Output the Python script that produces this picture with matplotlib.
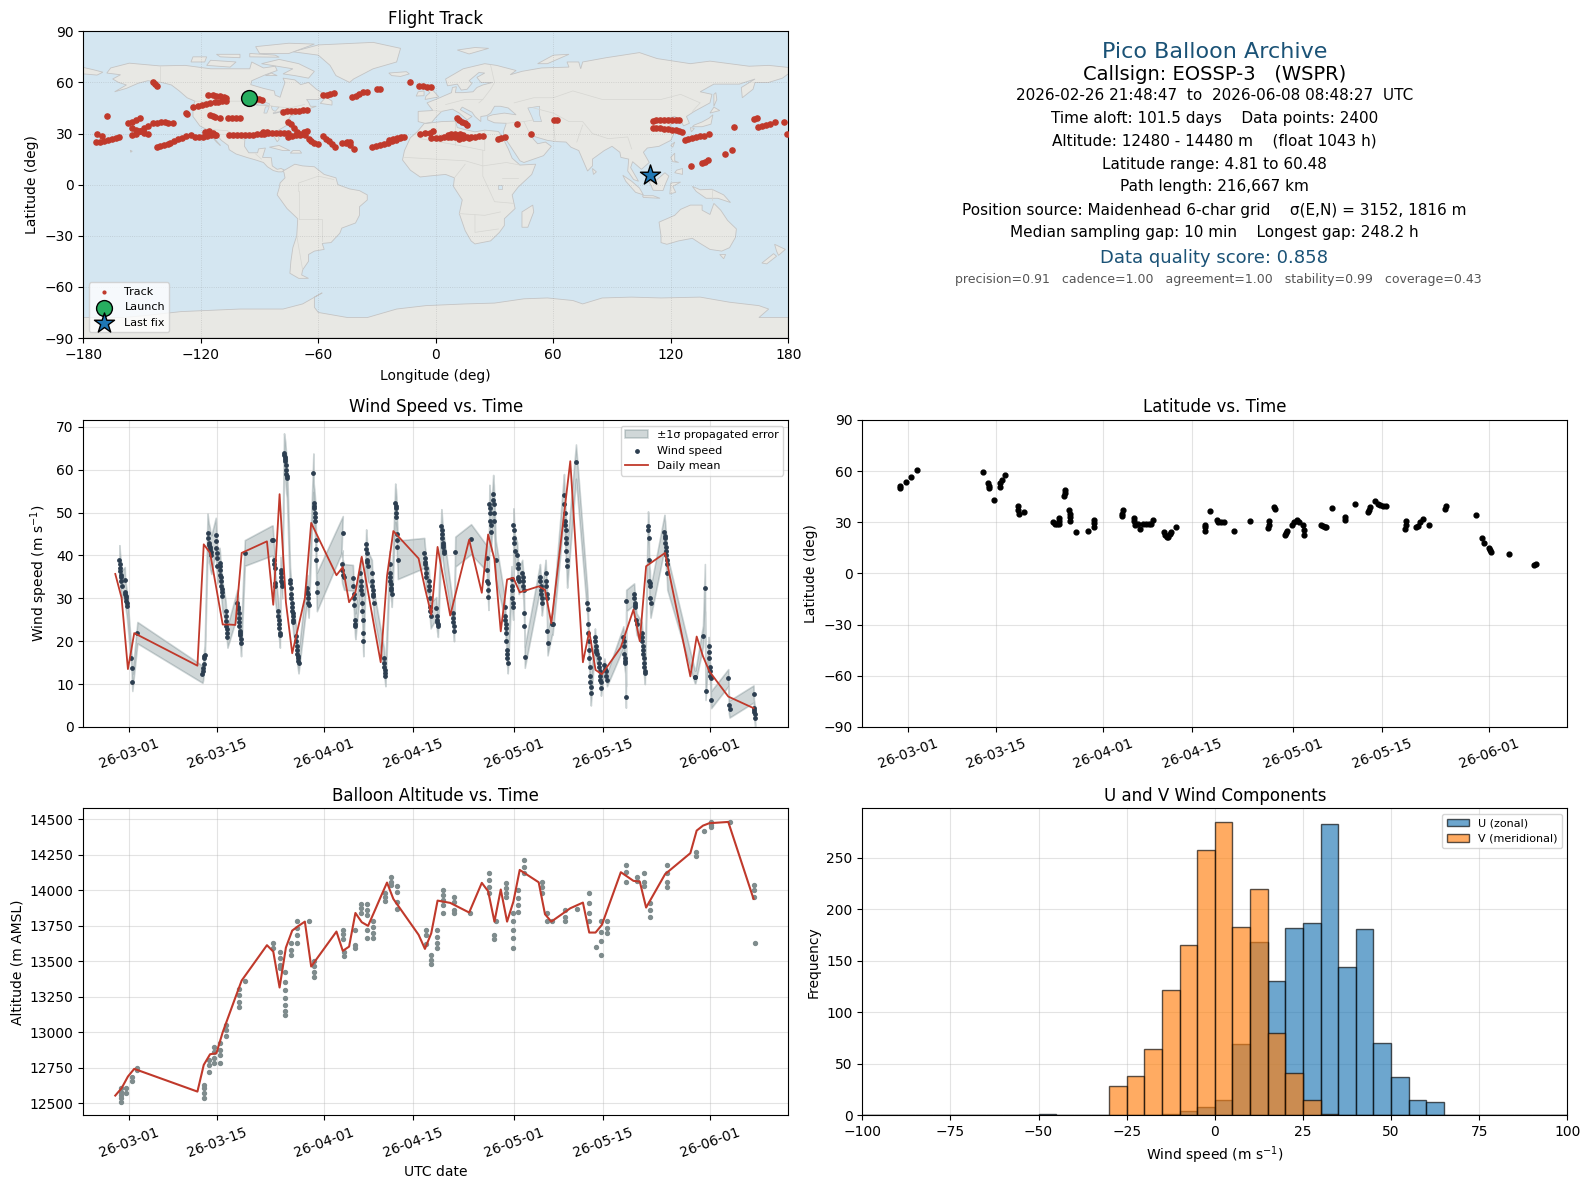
import datetime as dt

import matplotlib
matplotlib.use("Agg")
import matplotlib.dates as mdates
import matplotlib.pyplot as plt
from matplotlib.patches import Polygon
import numpy as np

# ---- data ----
# flight track
track_lon = [-144.6, -143.6, -142.6, -167.7, -172.8, -170.6, -173.7, -171.5, -169.5, -167.5, -165.5, -163.5, -162,
             -157, -155, -153, -151, -155, -153, -151, -149, -147, -155, -153, -151, -149, -147,
             -144.6, -142.5, -140.5, -138.5, -136.5, -134.4, -142.6, -141, -139, -137, -135.7,
             -133.5, -131.5, -129.5, -127.5, -125, -123.2, -121, -119, -117, -115, -113, -112, -118, -116, -114,
             -127.5, -126.8, -123.8, -121.5, -119.5, -117.5, -115.5, -113, -111, -109, -107, -116.4, -114, -112, -110, -108, -107,
             -115.5, -114, -112.5, -110.4, -106, -104, -102, -100, -92, -90.5, -89,
             -105.6, -103.5, -101.5, -99.5, -97.5, -95.5, -93.5, -91.5, -89.5, -87.5, -85.5, -83.5, -81.5, -79.5, -77.5, -75.4, -88, -86,
             -78, -76, -74, -72, -70, -68, -65.6, -75.4, -74, -72.5, -71, -69.4, -75.4, -73.5, -71.5, -69.5, -67.5, -65.6,
             -66.8, -65, -63.5, -62, -60, -57.4, -56, -54.5, -53, -51.5, -48, -46, -44, -42, -44, -45.5,
             -57.4, -55.5, -54, -52, -43, -41, -39, -37, -35.2, -29.8, -28.6, -13, -8.7, -6.7, -4.7, -2.7,
             -32.7, -30.5, -28.5, -26.5, -24.5, -22.5, -20.5, -18.5, -16.4, -24, -22, -20, -18,
             -7.9, -5.5, -3, -1.4,
             -2.2, 0, 2, 4, 6, 8, 10, 12, 14, 16, 18, 20, 22, 24.2, 6, 8, 10, 12.3, 14, 12, 14, 17,
             10.6, 12, 13.5, 15, 16, 31.9, 33.5, 35.3, 41.6, 48.6, 60.5, 62,
             110.7, 112.5, 114.5, 116.5, 118.5, 120.5, 122.5, 124.4, 110.7, 112.5, 114.5, 116.5, 118.5, 120.5, 122.5, 124, 125.6,
             127.3, 129, 131, 133, 135, 137, 139.7, 152.5, 162.5, 164, 164.7, 166.5, 168.5, 170.5, 173.3, 178, 179.2,
             130.2, 135.8, 137.5, 139.2, 147.7, 151]
track_lat = [60, 59, 58, 40.1, 29.5, 28.7, 25.2, 25.3, 25.6, 26.1, 26.8, 27.5, 28.2,
             36, 37, 38.2, 39.3, 33.5, 32, 31.5, 30.5, 29.5, 29, 30, 31.5, 33, 34.5,
             36, 36.3, 36.5, 36.5, 36.3, 36, 22, 22.5, 23.3, 24, 24.7,
             25.8, 26.7, 27.6, 28.4, 29, 27.8, 27.8, 28, 28.6, 29, 29, 29, 31, 31.3, 30.5,
             42, 41.5, 45.4, 46.2, 46.9, 47.5, 48, 48.4, 48.7, 48.9, 49, 52.6, 52.4, 52.2, 52, 51.4, 50.6,
             41, 40.2, 39.5, 39, 39, 39, 39, 39, 50, 50, 49.6,
             29, 29, 29, 29, 29, 29.2, 29.4, 29.5, 29.6, 29.9, 30.1, 30.3, 30.5, 30.5, 30.5, 30.5, 31, 31,
             42.8, 43, 43.1, 43.3, 43.4, 43.6, 43.8, 37, 35.4, 33, 31, 29, 28, 28.5, 29.2, 30, 30.8, 31.5,
             29, 27, 25.5, 24.7, 24, 28.6, 27, 25.5, 24, 22.3, 24.6, 24.4, 23, 21, 24.8, 25.3,
             52.6, 52.7, 53, 53.5, 51.2, 52.3, 53.3, 54.2, 54.5, 56, 56, 60, 57.9, 57.8, 57.6, 57.5,
             22, 22.6, 23, 23.6, 24.4, 25.4, 26.2, 27.2, 27.8, 26, 27, 27.5, 28,
             30, 30.5, 30.5, 31.5,
             27.2, 27.4, 27.6, 27.8, 27.9, 28, 28.2, 28.2, 28.2, 27.8, 27.8, 28.2, 28.4, 28.5, 29, 29.5, 30, 30, 29.3, 27, 27.2, 27.5,
             39, 38, 37, 36, 35, 26.8, 27.4, 28, 35.4, 30, 38, 38,
             37.5, 37.9, 38, 38, 38, 38, 38, 38, 33.4, 33.3, 33.2, 32.9, 32.6, 32.2, 31.8, 31.4, 31,
             26.2, 26.8, 27.3, 27.8, 28.3, 28.8, 29.7, 34, 38.8, 39.2, 33.6, 34.3, 35, 35.8, 37, 37, 30,
             11.2, 12.5, 13.5, 14.5, 17.8, 20.3]
launch_lon, launch_lat = -95.4, 50.6
last_lon, last_lat = 109.4, 5.7

# land outlines (lon, lat)
land_polys = [
    [(-168, 65.5), (-166, 68.5), (-156.5, 71.3), (-141, 69.7), (-128, 70), (-115, 68), (-108, 68), (-95, 68), (-94, 72), (-88, 68.5), (-82, 69.5), (-81, 67), (-87, 64.5), (-94, 61), (-94.5, 58.7), (-88, 56.5), (-82.5, 55), (-82, 52.5), (-79.5, 51.3), (-78.5, 55), (-77, 60), (-78, 62.5), (-72, 61.5), (-69, 58.7), (-65, 60), (-61, 56), (-56, 52.5), (-60, 50), (-66, 50), (-65, 48.5), (-64, 46), (-61, 46), (-66, 44), (-70, 43.5), (-70, 41.7), (-74, 40.5), (-76, 37), (-75.5, 35.2), (-81, 31.5), (-80, 26.5), (-81, 25.2), (-83, 29), (-85, 29.7), (-90, 29.2), (-94, 29.5), (-97.5, 27), (-97.7, 22.5), (-95.5, 18.7), (-91, 18.7), (-90.5, 21), (-87, 21.5), (-88.5, 16), (-84, 15.8), (-83.5, 11), (-81, 9), (-79, 9.5), (-77.3, 8.5), (-78.5, 7.5), (-80.5, 7.5), (-83, 8.3), (-86, 10.5), (-88, 13), (-92, 14.5), (-96, 15.8), (-102, 18), (-105.5, 20.5), (-106, 23), (-109.5, 26), (-112.5, 30), (-114.7, 31.7), (-113, 27), (-110, 23), (-112, 25), (-115, 29), (-117.2, 32.5), (-120.5, 34.5), (-124, 40), (-124, 46), (-123, 49), (-127, 51), (-131, 55), (-135, 58.5), (-140, 60), (-147, 61), (-152, 59.5), (-158, 56.5), (-164, 54.5), (-158, 58.5), (-162, 60), (-165, 62), (-161, 64.5)],
    [(-78, 8), (-72, 12), (-68, 11), (-62, 10.5), (-57, 6), (-51, 4), (-50, 0), (-44, -2.5), (-39, -3.5), (-35, -6), (-35, -9), (-39, -13), (-39, -18), (-41, -22.5), (-48, -25.5), (-49, -28.5), (-53.5, -34), (-58, -34.5), (-57, -38), (-62, -39), (-65, -41), (-65, -45), (-68, -50), (-68.5, -53), (-65, -55), (-70, -55), (-74.5, -52), (-74, -45), (-73, -37), (-71, -30), (-70.5, -20), (-76, -14), (-81, -6), (-80, -2), (-79.5, 1), (-77, 4), (-77.5, 7)],
    [(-6, 35.8), (3, 37), (10, 37.3), (11, 33.5), (15, 32.3), (20, 31), (25, 32), (32, 31.2), (34, 28), (37, 21), (39, 15.5), (43, 11.5), (51, 12), (49, 6), (42, -1.5), (39, -6), (40.5, -14), (35, -20), (35, -24), (32.5, -28), (28, -33), (20, -34.8), (18, -33), (15, -27), (12, -17), (13.5, -9), (9, -1), (9.5, 4), (5, 6), (-4, 5), (-8, 4.5), (-13, 8.5), (-17, 14.5), (-16, 20), (-13, 27.5), (-9.5, 31)],
    [(-9, 37), (-9, 43), (-1.5, 43.5), (-4.5, 48), (1, 50.5), (8, 54), (8.5, 57), (10.5, 57.5), (10, 54), (14, 54), (19, 54.5), (21, 57), (24, 58.5), (29, 60), (23, 60), (21, 63), (25, 65.5), (22, 65.8), (17, 61), (18.5, 59.5), (16, 56), (13, 55.5), (11, 59), (6, 58), (5, 62), (14, 68), (25, 71), (31, 70), (41, 67), (38, 64.5), (44, 66.5), (54, 68.5), (68, 69), (67, 72), (73, 72), (74, 68), (75, 72), (87, 74.5), (104, 77.5), (113, 74), (130, 71), (140, 72.5), (160, 69.5), (170, 70), (180, 68.8), (180, 65), (177, 62.5), (170, 60), (163, 60), (162, 56), (156.5, 51), (156, 57), (163, 62), (155, 59), (142, 59), (135, 54.5), (141, 53), (140, 48), (132, 43), (128, 40), (129.5, 36), (126.5, 34.5), (125, 38), (122, 40), (118, 39), (122, 37), (119.5, 35), (122, 31), (120, 26), (114, 22.5), (108, 21.5), (106, 19), (109, 13), (105, 9), (100.5, 13.5), (99.5, 10), (103.5, 2), (101, 3), (98, 8), (98.5, 15), (94.5, 16), (94, 19), (90, 22.5), (86, 20), (80, 15), (80, 11), (77.5, 8), (73, 20), (69, 22), (66.5, 25), (61, 25.3), (57, 26), (51, 28), (48, 30), (50, 26.5), (52, 24), (56, 25), (59, 22.5), (55, 17), (45, 13), (43, 14), (39, 21), (35, 28), (34.5, 31), (36, 36), (30, 36.3), (26.5, 38), (26.5, 40), (29, 41), (35, 42), (41, 41), (37, 45), (33, 46), (30, 46), (28, 42), (26, 40.5), (23, 40), (23, 37), (20, 40), (18.5, 42.5), (13.5, 45.5), (12.5, 44), (18.5, 40), (16, 38), (12, 42), (8.5, 44.3), (3, 43), (0, 39.5), (-2, 36.7), (-5.5, 36)],
    [(-180, 68.8), (-175, 67.5), (-170, 66), (-173, 64.3), (-180, 65)],
    [(-73, 78), (-60, 82), (-32, 83.5), (-18, 80), (-20, 72), (-32, 68), (-42, 62), (-44, 60), (-51, 64), (-54, 70), (-60, 76)],
    [(-24, 65.5), (-15, 66.3), (-13.5, 65), (-18, 63.5), (-22.5, 64)],
    [(-5.5, 50), (1.5, 51.5), (0, 53.5), (-2, 56), (-3, 58.6), (-6, 57), (-3, 54), (-5, 52)],
    [(-10, 52), (-6, 52.2), (-6, 55), (-9, 54.5)],
    [(11, 79), (20, 80.5), (27, 80), (17, 76.7)],
    [(52, 71), (57, 71), (68, 76.5), (60, 76)],
    [(-80, 73.5), (-70, 71), (-62, 66.5), (-65, 62.5), (-72, 64), (-78, 65), (-73, 68), (-89, 71)],
    [(-117, 70), (-105, 69), (-102, 72), (-115, 73)],
    [(-125, 72), (-118, 72), (-117, 75), (-124, 75)],
    [(-90, 77), (-75, 77), (-62, 82.5), (-75, 83), (-92, 81)],
    [(-95, 75), (-80, 74.8), (-82, 76), (-95, 77)],
    [(-110, 75), (-100, 74.5), (-100, 76.5), (-112, 76.5)],
    [(-87, 64), (-81, 64), (-84, 65.5)],
    [(-59, 47.7), (-53, 46.7), (-53, 49), (-56, 51.5)],
    [(-85, 22), (-80, 23), (-74.5, 20), (-78, 20)],
    [(-74.3, 18.5), (-68.5, 18.5), (-69.5, 20), (-73, 20)],
    [(-156, 20.2), (-155, 19.6), (-155.8, 19)],
    [(44, -16), (49.5, -12), (50, -16), (47, -25), (44, -25)],
    [(80, 9.5), (82, 7.5), (80.5, 6)],
    [(131, 34), (136, 34), (140.5, 35.5), (141.5, 41), (139.5, 39), (136, 36.8), (132, 35)],
    [(140, 42), (145, 43.5), (142, 45.5)],
    [(130, 33.5), (132, 33), (130.5, 31)],
    [(142, 46), (143.5, 50), (143, 54), (142, 53)],
    [(120, 23), (122, 25), (121, 22)],
    [(120, 16), (122, 18.5), (122, 14), (124, 13), (121, 13.5)],
    [(122, 7), (126, 6), (126, 9.5), (123, 8.5)],
    [(109, 1.5), (113, 3), (117, 7), (119, 5), (117.5, 1), (116, -3.5), (111, -3.3)],
    [(95.5, 5.5), (100, 2), (104, -2), (106, -6), (102, -4.5), (97, 2)],
    [(105.5, -6.5), (111, -6.5), (114.5, -8), (106, -7.5)],
    [(119.5, -5.5), (120, 1), (125, 1.5), (121, -1), (122.5, -4.5)],
    [(131, -1), (135, -3), (141, -2.7), (147, -6), (150.5, -10.5), (144, -8), (138, -8), (133, -4)],
    [(114, -22), (122, -18), (125, -14.5), (130, -12), (136, -12), (136, -15), (140, -17.5), (142, -11), (145.5, -15), (149, -21), (153.5, -26), (153, -31), (150, -37), (146, -39), (140, -38), (135, -34.5), (131, -31.5), (124, -33), (118, -35), (115, -34), (115, -30)],
    [(145, -41), (148, -41), (147, -43.5)],
    [(173, -35), (178.5, -38), (175, -41.5), (174, -39)],
    [(172.5, -40.5), (174, -42), (169, -46.5), (166.5, -46)],
    [(-180, -78), (-160, -78), (-150, -77), (-130, -74.5), (-100, -73), (-78, -73), (-68, -70), (-58, -63.5), (-62, -66), (-62, -72), (-60, -75), (-45, -78), (-35, -78), (-20, -73), (-5, -71), (15, -70), (30, -69.5), (45, -67), (57, -66.5), (70, -68), (75, -70), (85, -66.5), (100, -66), (115, -66.5), (135, -66), (150, -69), (165, -71), (170, -73), (165, -78), (180, -78), (180, -90), (-180, -90)],
]
lake_polys = [
    [(47, 45), (53, 46), (53, 41), (54, 37), (50, 37), (49, 40)],
    [(-92, 46.7), (-88, 48.7), (-85, 47.5), (-85, 46.5)],
    [(-87.8, 42), (-86.3, 42), (-85, 45.8), (-87, 45.6)],
    [(-84, 46), (-80, 45.5), (-82, 43), (-83.5, 44)],
    [(-83, 41.6), (-79, 42.7), (-79, 43), (-83, 42.2)],
    [(-79.5, 43.3), (-76.3, 43.5), (-76.5, 44.1), (-79, 43.9)],
    [(32, 0), (34, 0), (34, -2.5), (32, -2.5)],
]
border_lines = [
    [(-141, 60), (-141, 69.7)], [(-123, 49), (-95, 49), (-83, 46), (-75, 45), (-67, 47)],
    [(-117.2, 32.5), (-106.5, 31.7), (-97.5, 26)], [(-70, -20), (-58, -20), (-58, -33)],
    [(-70, -4), (-70, 1), (-60, 5), (-52, 3)], [(-70, -20), (-70, -4)], [(-71, -30), (-68, -50)],
    [(28, 70), (30, 60), (28, 56), (24, 50), (22, 48)], [(40, 48), (50, 51), (60, 51), (70, 55), (85, 50), (98, 50), (115, 50), (125, 53), (135, 48), (131, 43)],
    [(50, 45), (60, 42), (68, 37), (75, 37), (80, 30), (88, 27), (98, 28), (100, 21)], [(60, 37), (61, 25.3)], [(75, 35), (72, 25)],
    [(45, 37), (48, 30)], [(36, 36), (45, 37), (50, 38)], [(5, 47), (15, 50), (24, 50)], [(-1.5, 43.5), (3, 43)],
    [(-8, 27), (12, 23), (25, 20), (25, 32)], [(-16, 16), (15, 14), (24, 11), (36, 13), (43, 11.5)],
    [(9.5, 4), (15, 12)], [(24, 20), (24, 5), (30, -10), (40, -11)], [(12, -17), (25, -18), (33, -16)], [(20, -18), (20, -28), (32, -26)],
    [(141, -2.7), (141, -9)], [(10, 37), (10, 23)], [(34, 4), (42, 4)], [(-92, 18), (-89, 15)],
]

# daily means, days after 2026-03-01
mean_days = [-2.1, -1.1, -0.1, 0.9, 10.9, 11.9, 12.9, 13.9, 14.9, 15.9, 16.9, 17.9, 21.9, 22.9, 23.9, 24.9, 25.9, 26.9, 27.9, 28.9,
             32.9, 33.9, 34.9, 35.9, 36.9, 37.9, 38.9, 39.9, 40.9, 41.9, 45.9, 46.9, 47.9, 48.9, 50.9, 53.9, 55.9, 56.9, 57.9, 58.9,
             59.9, 60.9, 61.9, 64.9, 65.9, 66.9, 69.9, 71.9, 72.9, 73.9, 74.9, 77.9, 79.9, 80.9, 81.9, 84.9, 88.9, 89.9, 90.9, 91.9, 94.9, 98.9]
mean_wind = [35.7, 30.1, 13.5, 21.9, 14.3, 42.6, 40.6, 32.3, 23.9, 23.9, 23.8, 40.6, 43.3, 28.5, 54.3, 29.1, 17.2, 23.6, 30.1, 47.6,
             35.4, 37.3, 29.1, 31.4, 39.7, 31.5, 23.2, 15.1, 35.2, 45.7, 39.3, 32.4, 26.2, 42, 26, 43.7, 31.3, 44.9, 39.1, 22.3,
             34.4, 34.8, 31.4, 32.8, 32, 24.2, 62, 15.1, 22.3, 13.3, 12.3, 18.6, 27.4, 20, 37.5, 40.6, 11.8, 21.1, 16.5, 13, 7.1, 4.4]
mean_alt = [12554, 12606, 12688, 12742, 12582, 12770, 12845, 12852, 13000, 13122, 13244, 13364, 13613, 13568, 13315, 13596, 13716, 13749, 13779, 13463,
            13709, 13573, 13603, 13840, 13775, 13749, 13850, 13953, 14054, 13939, 13686, 13587, 13697, 13927, 13911, 13843, 14052, 13993, 13779, 14005,
            13779, 13920, 14143, 14056, 13831, 13779, 13873, 13913, 13702, 13702, 13756, 14127, 14066, 14061, 13878, 14113, 14261, 14420, 14455, 14472, 14481, 13939]

# wind speed fixes, grouped per pass of the balloon
wind_days = [
    [-1.45, -1.4, -1.35, -1.3, -1.25, -1.2, -1.15, -1.1], [-0.6, -0.55, -0.5, -0.45, -0.4, -0.35, -0.3, -0.25], [0.45, 0.5, 0.6], [1.4],
    [11.7, 11.8, 11.85, 11.9, 11.95, 12, 12.05], [12.5, 12.6, 12.7, 12.8, 12.85, 12.9, 13, 13.1], [13.8, 13.85, 13.9, 13.95, 14, 14.05],
    [14.4, 14.45, 14.5, 14.55, 14.6, 14.65, 14.7, 14.75, 14.8, 14.85], [15.35, 15.4, 15.45, 15.5, 15.55, 15.6, 15.65],
    [17.2, 17.3, 17.35, 17.4, 17.45, 17.5, 17.55, 17.6, 17.65, 17.7, 17.75, 17.8], [18.4], [22.7, 22.8],
    [23, 23.05, 23.1, 23.15, 23.2], [23.65, 23.7, 23.75, 23.8, 23.85, 23.9, 23.95], [24.05, 24.1, 24.15, 24.2, 24.25, 24.3],
    [24.6, 24.65, 24.7, 24.75, 24.8, 24.85, 24.9, 24.95, 25, 25.05], [25.55, 25.6, 25.65, 25.7, 25.75, 25.8, 25.85, 25.9, 25.95, 26, 26.05, 26.1],
    [26.5, 26.55, 26.6, 26.65, 26.7, 26.75, 26.8, 26.85, 26.9], [28.25, 28.3, 28.35, 28.4, 28.45, 28.5],
    [29.25, 29.3, 29.35, 29.4, 29.45, 29.5, 29.55, 29.6, 29.65, 29.7, 29.75, 29.8], [33.9], [33.7, 33.8, 34, 34.1], [35.5, 35.55, 35.6, 35.65, 35.7, 35.8, 35.85, 35.9],
    [36.7, 36.75, 36.8, 36.85, 36.9, 36.95, 37, 37.05, 37.1, 37.15], [37.6, 37.65, 37.7, 37.75, 37.8, 37.85], [38.5, 38.55, 38.6, 38.65, 38.7, 38.75, 38.8],
    [40.4, 40.45, 40.5, 40.55, 40.6, 40.65], [41.3, 41.35, 41.4, 41.45, 41.5, 41.55, 41.6, 41.65], [42.2, 42.25, 42.3, 42.35, 42.4, 42.45, 42.5, 42.55, 42.6],
    [46.8, 46.85, 46.9, 46.95, 47, 47.05, 47.1], [47.5, 47.55, 47.6, 47.65, 47.7, 47.75, 47.8], [48.7, 48.75, 48.8, 48.85, 48.9, 48.95],
    [49.5, 49.55, 49.6, 49.65, 49.7, 49.75, 49.8, 49.85, 49.9], [51.3, 51.35, 51.4, 51.45, 51.5], [51.7], [54.2],
    [56.7, 56.75, 56.8, 56.85, 56.9, 56.95], [57.1, 57.15, 57.2, 57.25, 57.3, 57.35], [57.7, 57.75, 57.8, 57.85, 57.9, 58.1],
    [59.5, 59.55, 59.6, 59.65, 59.7, 59.75, 59.8, 59.85, 59.9, 59.95, 60], [60.6, 60.65, 60.7, 60.75, 60.8, 60.85], [60.9, 60.95, 61, 61.05, 61.1],
    [61.5, 61.55, 61.6, 61.65, 61.7, 61.75], [62.3, 62.35, 62.4, 62.45, 62.5], [62.6, 62.65, 62.7], [65.1, 65.15, 65.2, 65.25, 65.3, 65.35, 65.4],
    [66, 66.05, 66.1, 66.15, 66.2, 66.25, 66.3], [67, 67.1], [68.9, 68.95, 69, 69.05, 69.1, 69.15, 69.2, 69.25, 69.3, 69.35, 69.4], [70.8],
    [72.6, 72.65, 72.7, 72.75, 72.8, 72.85, 72.9, 72.95, 73, 73.05, 73.1, 73.15], [73.8, 73.85, 73.9, 73.95, 74, 74.05], [74.4, 74.45, 74.5, 74.55, 74.6, 74.65, 74.7, 74.75],
    [75.3, 75.4, 75.5, 75.6, 75.7], [78.3, 78.35, 78.4, 78.45, 78.5, 78.55, 78.6], [78.7, 78.75], [80, 80.05, 80.1, 80.15, 80.2, 80.3, 80.4],
    [81.2, 81.25, 81.3, 81.35, 81.4, 81.45, 81.5, 81.55, 81.6, 81.65, 81.7], [82.2, 82.25, 82.3, 82.35, 82.4, 82.45, 82.5, 82.55, 82.6], [84.8, 84.85, 84.9, 84.95, 85, 85.05, 85.1, 85.15, 85.2, 85.25],
    [89.6, 89.7], [90.9], [91.2], [91.3], [91.8, 91.85, 91.9, 91.95, 92, 92.05, 92.1, 92.2], [94.9, 95, 95.1], [98.9, 98.95, 99, 99.05, 99.1, 99.15],
]
wind_vals = [
    [38.9, 38, 37, 36.3, 35.5, 35, 34, 33], [34.3, 31.6, 31, 30.5, 30, 29.5, 29, 28.3], [16.1, 13.7, 10.4], [22],
    [12.3, 13, 13.7, 14.6, 16, 16.5, 16.9], [45.3, 44.1, 43, 42.4, 42, 41.4, 40.8, 40.2], [44.8, 43.3, 41.8, 40.6, 39.4, 37.5],
    [38.3, 37.5, 36.5, 35.5, 35, 34, 33, 32.3, 31.5, 30.5], [27, 26, 24.7, 23.5, 22.8, 22, 21],
    [29, 28, 27.5, 26.5, 25.5, 24.5, 23.5, 22.5, 22, 21.5, 20.5, 19.5], [40.6], [43.5, 43.5],
    [39, 38, 37, 33.6, 32.8], [27, 26, 25, 24, 23, 22, 21.5], [36.7, 36, 35, 34, 33.5, 33],
    [64, 63.5, 63, 62.5, 62, 61, 60, 59, 58.5, 58], [34.3, 33.5, 32.5, 31, 30, 29, 28, 27, 26.5, 26, 25, 24.5],
    [21.2, 20, 19, 18, 17, 16.5, 16, 15.5, 15], [32.5, 31.5, 31, 30, 29, 28.5],
    [59.3, 52.3, 51.5, 51, 50, 49, 48, 43.5, 41.5, 39, 33.5, 31.5], [45.2], [37.9, 36.5, 35.5, 35], [34.8, 33, 31, 30, 28.5, 25, 24, 23.5],
    [36, 34, 33, 32, 31, 29, 27, 25, 22, 20], [42.6, 41.5, 40.5, 39, 38.5, 37.5], [36, 34, 33, 32, 31, 30.5, 29],
    [16, 15, 14, 13.3, 12.6, 12], [38, 36, 35, 34, 33.3, 32.5, 32, 31], [52.3, 51.5, 51, 50, 49, 45, 43.5, 42, 39],
    [40.6, 39.5, 38.5, 38, 37, 36, 35], [34, 33, 32, 30, 28, 27, 26], [27.8, 26, 25, 24.5, 24, 23.5],
    [46.8, 46, 45, 44, 43, 42.5, 42, 41, 40.6], [26.5, 25.5, 24.5, 23.5, 22.5], [40.9], [43.8],
    [39.3, 36.5, 34, 33.5, 32, 30.3], [52, 51, 50, 48, 47, 45.5], [54.3, 53, 52, 50, 48, 39],
    [28, 26, 25, 24, 23, 22, 20, 18, 17, 16, 15], [34.5, 33, 32, 30, 29, 28], [47, 46, 44, 43, 41],
    [40, 38, 37, 35, 34.5, 34], [36, 35, 34, 33, 32], [26.5, 23.5, 16.3], [35, 34, 33, 32, 31, 30, 29],
    [36, 34, 33, 31, 30, 22.3, 19.7], [24, 24], [54, 52, 50, 48, 47, 46, 44, 43, 41, 39, 37.5], [61.9],
    [29, 27.5, 24, 22, 20, 18, 16, 14, 12, 10.5, 9.3, 8], [21, 20, 19, 18, 17.5, 17], [16, 15, 14, 13, 12, 11, 10.5, 9],
    [14.5, 13.5, 13, 12, 11], [21, 20, 19, 17, 16, 15.5, 15], [7, 29.5], [31, 30, 29, 28.5, 28, 25, 24],
    [22, 21, 20, 19, 18, 17, 16, 15, 14, 13, 12.5], [46.8, 46, 44, 39, 34, 33.5, 33, 30, 29], [45.5, 44.5, 44, 43, 42, 41, 40, 39, 38, 36],
    [11.7, 11.7], [21.2], [32.5], [8.3], [19, 17.5, 16, 14, 13, 12, 11.5, 6.4], [11.5, 5.2, 4.2], [7.7, 4.5, 4, 3.5, 3, 2.2],
]
wind_sigma = [3.5, 3, 2, 2.5, 2, 4.5, 4, 3.5, 2.5, 3, 3, 3.5, 3.5, 3, 3, 4.5, 3, 2.5, 3, 4.5, 4, 3, 3, 3.5, 3.5, 3, 2.5,
              3, 4.5, 3.5, 3, 2.5, 4, 2.5, 3.5, 3.5, 3, 4.5, 4.5, 2.5, 3, 4, 3, 3, 2.5, 3, 3, 2.5, 5, 4, 3, 2, 1.7, 1.5, 2.5, 2.5, 2.5, 2.5, 3.5, 4, 1.5, 2.5, 5.5, 2, 2, 2, 2]

# latitude fixes
lat_days = [-1.2, -1.2, -0.3, 0.56, 1.5, 11.9, 12.8, 12.85, 12.9, 14.6, 14.7, 14.9, 15.5, 13.7, 17.4, 17.5, 17.6, 18.5,
            23, 23.3, 23.6, 23.9, 24, 24, 24.9, 24.85, 24.8, 25.6, 25.65, 25.7, 25.75, 26.7, 28.5, 29.5, 29.5, 29.45,
            34.1, 34, 33.9, 35.8, 35.9, 36, 36.4, 36.8, 37.2, 37.7, 38.2, 38.6, 38.9, 40.6, 40.7, 41, 41.2, 41.5, 41.7, 42.5,
            47, 47.05, 47.1, 47.9, 48.9, 49.2, 49.6, 50, 51.6, 54.2, 57.1, 57.15, 57.2, 58, 58.2, 59.8, 59.9, 60.1, 60.8, 61.2, 61.6, 62, 62.6, 62.7, 62.8,
            65.4, 65.7, 66, 66.2, 67.2, 69.2, 69.25, 70.8, 72.9, 73, 73.1, 74, 74.5, 74.8, 75.3, 75.7,
            78.7, 78.8, 78.9, 80.4, 80.8, 81.1, 81.5, 82.5, 85.1, 85.15, 89.9, 90.9, 91.2, 92, 92.1, 92.3, 95.1, 99.2, 99.4]
lat_vals = [50.2, 51.5, 53.5, 56.3, 60.5, 59.4, 53, 51.5, 50, 51, 53, 55, 58, 43.3, 39.3, 37, 35, 36,
            30, 29, 29, 29, 31, 32.4, 49, 47, 45.6, 37, 35, 33, 30.5, 24.6, 25, 31.5, 29.5, 27.5,
            37, 35, 33.5, 32.4, 30.5, 28.5, 29, 26, 29, 29, 29, 29, 31.5, 24.5, 22.5, 21.6, 21.6, 23, 24.6, 27.5,
            25.2, 27, 28.5, 36.4, 31.5, 30, 30, 30, 25.2, 30.5, 26.5, 28.5, 30.5, 38.7, 37.7, 22.6, 24, 25, 28.5, 30, 31.5, 30, 28.5, 25.5, 22.6,
            28.5, 27.7, 27.2, 27.5, 38.3, 33, 31.5, 40.7, 35.8, 37.5, 39, 42.3, 41, 40.3, 39.3, 39.3,
            26, 28.5, 30.5, 27.1, 28, 30, 31.9, 28.5, 37.8, 39.3, 34.2, 20.6, 17.7, 14.7, 13.8, 12.8, 11.2, 4.9, 5.3]

# altitude fixes, one row per pass
alt_days = [-1.2, -0.4, 0.5, 1.4, 11.9, 12.8, 13.6, 14.5, 15.5, 17.5, 18.5, 22.9, 24, 24.8, 25.7, 26.6, 28.5, 29.3, 33.9, 34.1, 35.8, 36.8, 37.7, 38.7,
            40.6, 41.6, 42.5, 47, 47.9, 48.8, 49.7, 51.5, 54.1, 57, 57.9, 58.2, 59.8, 60.8, 61.7, 62.6, 65.4, 66.2, 67, 69, 70.9, 72.8, 73.9, 74.7, 75.7,
            78.7, 80.4, 81.5, 82.5, 85.2, 89.8, 91.1, 92.1, 95.1, 99, 99.2]
alt_vals = [
    [12606, 12582, 12559, 12535, 12512], [12606, 12570], [12688, 12660], [12750, 12733], [12630, 12606, 12570, 12540], [12805, 12770, 12723],
    [12895, 12864, 12817, 12782], [12923, 12876, 12840, 12782], [13052, 13017, 12970], [13305, 13263, 13216, 13181], [13362], [13627, 13596],
    [13568, 13521, 13475, 13451], [13427, 13357, 13298, 13240, 13193, 13146, 13122], [13627, 13580, 13545], [13780, 13733, 13686, 13627], [13784],
    [13505, 13463, 13427, 13387], [13721, 13690, 13657], [13568, 13540], [13721, 13615, 13596], [13902, 13873, 13838], [13902, 13862, 13826, 13721, 13662],
    [13780, 13744, 13697, 13662], [13979, 13955, 13927], [14092, 14056, 14038], [14033, 13991, 13920, 13866], [13721, 13686, 13620], [13545, 13510, 13479],
    [13721, 13674, 13627, 13596], [14002, 13967, 13932, 13897, 13838], [13955, 13920, 13862, 13838], [13838], [14120, 14073, 14026, 13979], [13686, 13657], [13784],
    [14054, 14014, 13979, 13955], [13838, 13780, 13721, 13662, 13596], [14002, 13944, 13897, 13845], [14214, 14167, 14120], [14056, 14026, 13979], [13838, 13784], [13780],
    [13862, 13815, 13784], [13866], [13979, 13908, 13838, 13780], [13599], [13780, 13709, 13639, 13545], [13780, 13733, 13697], [14178, 14131, 14056], [14096, 14066],
    [14120, 14056, 14033], [13908, 13862, 13810], [14178, 14120, 14061, 14026], [14268, 14242], [14418], [14484, 14460, 14448], [14484], [14038, 14002, 13955], [13627],
]

# histogram, 5 m/s bins from -100 to 100
bin_edges = list(range(-100, 101, 5))
u_counts = [0] * 10 + [1] + [0] * 6 + [1, 4, 8, 15, 69, 168, 130, 182, 187, 283, 144, 181, 70, 37, 15, 13] + [0] * 7
v_counts = [0] * 14 + [28, 38, 64, 122, 165, 258, 285, 183, 220, 80, 41, 15, 1] + [0] * 13

info_lines = ["Pico Balloon Archive", "Callsign: EOSSP-3   (WSPR)", "2026-02-26 21:48:47  to  2026-06-08 08:48:27  UTC",
              "Time aloft: 101.5 days    Data points: 2400", "Altitude: 12480 - 14480 m    (float 1043 h)", "Latitude range: 4.81 to 60.48",
              "Path length: 216,667 km", "Position source: Maidenhead 6-char grid    σ(E,N) = 3152, 1816 m",
              "Median sampling gap: 10 min    Longest gap: 248.2 h", "Data quality score: 0.858",
              "precision=0.91   cadence=1.00   agreement=1.00   stability=0.99   coverage=0.43"]
info_y = [51.5, 74, 95, 118.3, 141, 164.3, 187, 210, 233, 258, 279]
info_x = [0.5, 0.5, 0.5, 0.5, 0.5, 0.5, 0.5, 0.499, 0.5, 0.4995, 0.5055]
info_size = [16, 14, 11, 11, 11, 11, 11, 11, 11, 13, 9]
info_color = ["#1a5276", "black", "black", "black", "black", "black", "black", "black", "black", "#1a5276", "#555555"]

# ---- drawing ----
W, H = 1590, 1189
TRACK = "#c0392b"
base = mdates.date2num(dt.datetime(2026, 3, 1))


def place(left, top, right, bottom):
    return fig.add_axes([left / W, 1 - bottom / H, (right - left) / W, (bottom - top) / H])


def date_axis(ax):
    ax.xaxis.set_major_locator(mdates.DayLocator(bymonthday=[1, 15]))
    ax.xaxis.set_major_formatter(mdates.DateFormatter("%y-%m-%d"))
    ax.tick_params(axis="x", labelrotation=20)
    ax.set_xlim(base - 7.16, base + 104.4)
    ax.grid(True, alpha=0.35)


fig = plt.figure(figsize=(W / 100, H / 100), dpi=100)

# map
ax = place(83.3, 31.3, 788.3, 338)
ax.set_facecolor("#d4e6f1")
for poly in land_polys:
    ax.add_patch(Polygon(poly, closed=True, facecolor="#e8e8e4", edgecolor="#c4c4c4", linewidth=0.6, zorder=1))
for poly in lake_polys:
    ax.add_patch(Polygon(poly, closed=True, facecolor="#d4e6f1", edgecolor="#c4c4c4", linewidth=0.5, zorder=1.1))
for line in border_lines:
    xs, ys = zip(*line)
    ax.plot(xs, ys, color="#d6d6d2", linewidth=0.5, zorder=1.2)
ax.scatter(track_lon, track_lat, s=14, color=TRACK, zorder=3)
ax.scatter([], [], s=4, color=TRACK, label="Track")
ax.scatter(launch_lon, launch_lat, s=130, color="#27ae60", edgecolor="black", zorder=4, label="Launch")
ax.scatter(last_lon, last_lat, s=230, marker="*", color="#1f77b4", edgecolor="black", zorder=4, label="Last fix")
ax.set_xlim(-180, 180)
ax.set_ylim(-90, 90)
ax.set_xticks(np.arange(-180, 181, 60))
ax.set_yticks(np.arange(-90, 91, 30))
ax.grid(True, alpha=0.3, linewidth=0.6, linestyle=":", color="gray", zorder=2)
ax.set_xlabel("Longitude (deg)", labelpad=5)
ax.set_ylabel("Latitude (deg)")
ax.set_title("Flight Track", fontsize=12, pad=5)
ax.legend(loc="lower left", fontsize=8)

# info block
ax = place(862.3, 31.3, 1567.3, 338)
ax.axis("off")
for txt, x, y, size, col in zip(info_lines, info_x, info_y, info_size, info_color):
    ax.text(x, (338 - y) / 306.7, txt, transform=ax.transAxes, ha="center", va="center", fontsize=size, color=col)

# wind speed
ax = place(83.3, 420, 788.3, 727)
w_x = base + np.concatenate(wind_days)
w_y = np.concatenate(wind_vals)
w_s = np.concatenate([[s] * len(v) for s, v in zip(wind_sigma, wind_vals)])
ax.fill_between(w_x, w_y - w_s, w_y + w_s, color="#2c4a50", alpha=0.22, linewidth=1.2, label="±1σ propagated error")
ax.scatter(w_x, w_y, s=6, color="#2c3e50", zorder=3, label="Wind speed")
ax.plot(base + np.array(mean_days), mean_wind, color=TRACK, linewidth=1.3, zorder=4, label="Daily mean")
date_axis(ax)
ax.set_ylim(0, 71.6)
ax.set_ylabel("Wind speed (m s$^{-1}$)")
ax.set_title("Wind Speed vs. Time", fontsize=12)
ax.legend(loc="upper right", fontsize=8)

# latitude
ax = place(862.3, 420, 1567.3, 727)
ax.scatter(base + np.array(lat_days), lat_vals, s=12, color="black", zorder=3)
date_axis(ax)
ax.set_ylim(-90, 90)
ax.set_yticks(np.arange(-90, 91, 30))
ax.set_ylabel("Latitude (deg)")
ax.set_title("Latitude vs. Time", fontsize=12)

# altitude
ax = place(83.3, 808.3, 788.3, 1115.3)
a_x = np.concatenate([[base + d] * len(v) for d, v in zip(alt_days, alt_vals)])
ax.scatter(a_x, np.concatenate(alt_vals), s=8, color="#7f8c8d", zorder=3)
ax.plot(base + np.array(mean_days), mean_alt, color=TRACK, linewidth=1.5, zorder=4)
date_axis(ax)
ax.set_ylim(12415, 14577)
ax.set_xlabel("UTC date")
ax.set_ylabel("Altitude (m AMSL)")
ax.set_title("Balloon Altitude vs. Time", fontsize=12, pad=5)

# U and V histogram
ax = place(862.3, 808.3, 1567.3, 1115.3)
ax.bar(bin_edges[:-1], u_counts, width=5, align="edge", color="#1f77b4", edgecolor="black", alpha=0.65, label="U (zonal)")
ax.bar(bin_edges[:-1], v_counts, width=5, align="edge", color="#ff7f0e", edgecolor="black", alpha=0.65, label="V (meridional)")
ax.set_xlim(-100, 100)
ax.set_ylim(0, 298)
ax.set_axisbelow(True)
ax.grid(True, alpha=0.35)
ax.set_xlabel("Wind speed (m s$^{-1}$)")
ax.set_ylabel("Frequency")
ax.set_title("U and V Wind Components", fontsize=12, pad=5)
ax.legend(loc="upper right", fontsize=8)

fig.savefig("out.png", dpi=100)
